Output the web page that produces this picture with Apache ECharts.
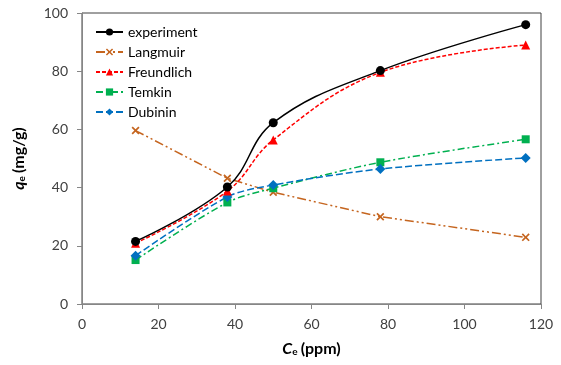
<!DOCTYPE html>
<html>
<head>
<meta charset="utf-8">
<script src="https://cdn.jsdelivr.net/npm/echarts@6/dist/echarts.min.js"></script>
<style>
  html, body { margin: 0; padding: 0; background: #fff; }
  #chart { width: 561px; height: 365px; }
</style>
</head>
<body>
<div id="chart"></div>
<script>
// equilibrium concentration Ce (ppm)
const ce = [14, 38, 50, 78, 116];

// qe (mg/g) per model
const experiment = [21.5, 40.2, 62.3, 80.2, 96.0];
const langmuir = [59.6, 43.2, 38.4, 30.0, 22.9];
const freundlich = [20.9, 38.8, 56.4, 79.6, 89.0];
const temkin = [15.1, 34.9, 39.8, 48.7, 56.6];
const dubinin = [16.6, 36.8, 40.9, 46.4, 50.2];

const xTicks = [0, 20, 40, 60, 80, 100, 120];
const yTicks = [0, 20, 40, 60, 80, 100];

const font = 'Lato, "Open Sans", sans-serif';
const crossIcon = 'path://M1.5,0 L5,3.5 L8.5,0 L10,1.5 L6.5,5 L10,8.5 L8.5,10 L5,6.5 L1.5,10 L0,8.5 L3.5,5 L0,1.5 Z';

const pairs = (ys) => ce.map((x, i) => [x, ys[i]]);

const mkSeries = (name, ys, color, symbol, size, dash, smooth) => ({
  name: name,
  type: 'line',
  data: pairs(ys),
  smooth: smooth,
  symbol: symbol,
  symbolSize: size,
  itemStyle: { color: color },
  lineStyle: { color: color, width: 1.5, type: dash },
  z: 2
});

const titleRich = {
  i: { fontFamily: font, fontSize: 16, fontWeight: 'bold', fontStyle: 'italic', color: '#000' },
  s: { fontFamily: font, fontSize: 10, fontWeight: 'bold', color: '#000', verticalAlign: 'bottom', padding: [7, 0, 0, 0] },
  b: { fontFamily: font, fontSize: 16, fontWeight: 'bold', color: '#000' }
};

const chart = echarts.init(document.getElementById('chart'));
chart.setOption({
  animation: false,
  backgroundColor: '#fff',
  textStyle: { fontFamily: font },
  grid: {
    left: 82, right: 20, top: 13, bottom: 61,
    show: true, borderColor: '#404040', borderWidth: 1
  },
  legend: {
    orient: 'vertical',
    left: 90, top: 20,
    itemWidth: 27, itemHeight: 9, itemGap: 6,
    textStyle: { fontFamily: font, fontSize: 14, color: '#000' },
    data: ['experiment', 'Langmuir', 'Freundlich', 'Temkin', 'Dubinin']
  },
  xAxis: {
    type: 'value',
    min: 0, max: 120, interval: 20,
    name: '{i|C}{s|e} {b|(ppm)}',
    nameLocation: 'middle',
    nameGap: 36,
    nameTextStyle: { rich: titleRich },
    axisLine: { onZero: false, lineStyle: { color: '#868686', width: 1 } },
    axisTick: { show: true, inside: false, length: 5, lineStyle: { color: '#868686' } },
    axisLabel: {
      fontSize: 14, color: '#404040', margin: 13,
      formatter: (v) => (xTicks.includes(v) ? String(v) : '')
    },
    splitLine: { show: false }
  },
  yAxis: {
    type: 'value',
    min: 0, max: 100, interval: 20,
    name: '{i|q}{s|e} {b|(mg/g)}',
    nameLocation: 'middle',
    nameGap: 55,
    nameRotate: 90,
    nameTextStyle: { rich: titleRich },
    axisLine: { show: true, onZero: false, lineStyle: { color: '#868686', width: 1 } },
    axisTick: { show: true, inside: false, length: 5, lineStyle: { color: '#868686' } },
    axisLabel: {
      fontSize: 14, color: '#404040', margin: 14,
      formatter: (v) => (yTicks.includes(v) ? String(v) : '')
    },
    splitLine: { show: false }
  },
  series: [
    mkSeries('Langmuir', langmuir, '#C5651F', crossIcon, 8, [9, 3, 2, 3, 2, 3], false),
    mkSeries('Temkin', temkin, '#00B050', 'rect', 8, [7, 3, 2, 3], 0.3),
    mkSeries('Dubinin', dubinin, '#0070C0', 'diamond', 10, [7, 3], 0.3),
    mkSeries('Freundlich', freundlich, '#FF0000', 'triangle', 9, [4, 2], 0.4),
    mkSeries('experiment', experiment, '#000000', 'circle', 9, 'solid', 0.4)
  ]
});
</script>
</body>
</html>
